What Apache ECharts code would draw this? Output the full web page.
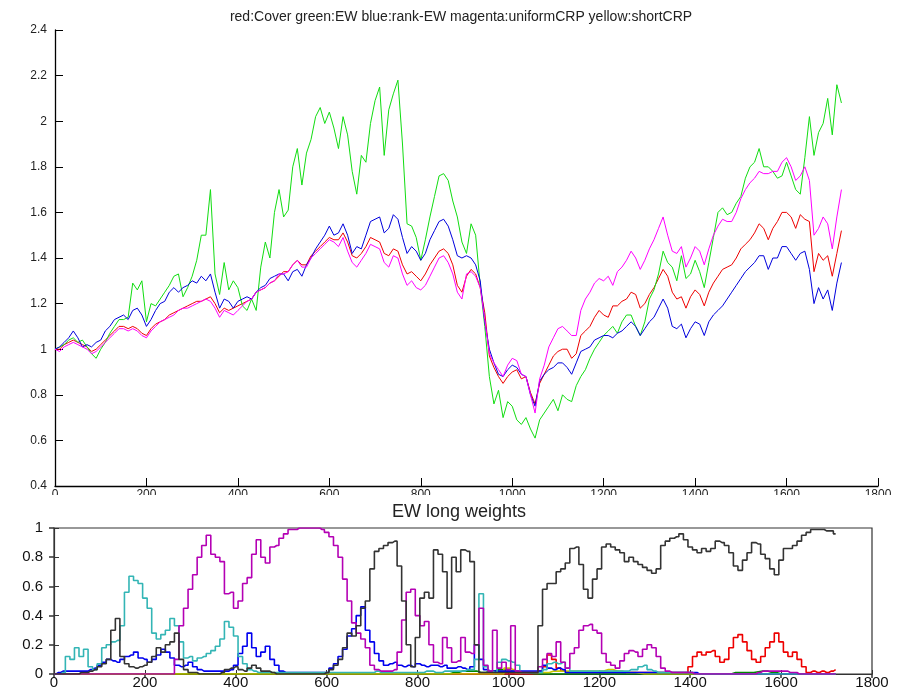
<!DOCTYPE html>
<html>
<head>
<meta charset="utf-8">
<script src="https://cdn.jsdelivr.net/npm/echarts@6/dist/echarts.min.js"></script>
<style>html,body{margin:0;padding:0;background:#fff}#c{width:899px;height:690px}</style>
</head>
<body>
<div id="c"></div>
<script>
// sample index (days), one value every 10 days, 0..1720
const T = [];
for (let i = 0; i <= 172; i++) T.push(i * 10);

// ---------- top panel: cumulative wealth ----------
const cover = [
1.00,1.00,1.02,1.03,1.04,1.03,1.02,1.01,0.99,1.00,
1.02,1.04,1.06,1.08,1.10,1.10,1.09,1.10,1.09,1.07,
1.06,1.09,1.11,1.12,1.13,1.15,1.16,1.17,1.18,1.19,
1.20,1.21,1.21,1.22,1.23,1.20,1.16,1.18,1.17,1.18,
1.19,1.20,1.21,1.22,1.25,1.26,1.27,1.29,1.30,1.32,
1.34,1.34,1.37,1.39,1.37,1.37,1.41,1.43,1.45,1.47,
1.49,1.48,1.48,1.51,1.47,1.41,1.40,1.42,1.45,1.49,
1.48,1.47,1.42,1.41,1.44,1.43,1.37,1.33,1.34,1.32,
1.30,1.33,1.37,1.40,1.43,1.44,1.42,1.37,1.28,1.25,
1.32,1.35,1.33,1.27,1.16,0.97,0.92,0.88,0.85,0.88,
0.90,0.91,0.87,0.88,0.81,0.76,0.85,0.89,0.93,0.97,
0.99,1.00,1.00,0.96,0.98,1.06,1.08,1.10,1.14,1.17,
1.15,1.14,1.19,1.19,1.21,1.22,1.25,1.24,1.18,1.20,
1.24,1.27,1.31,1.35,1.32,1.25,1.22,1.23,1.18,1.23,
1.26,1.24,1.19,1.25,1.29,1.32,1.35,1.36,1.37,1.40,
1.44,1.46,1.48,1.51,1.55,1.53,1.48,1.53,1.56,1.60,
1.60,1.58,1.53,1.59,1.57,1.56,1.34,1.42,1.39,1.41,
1.32,1.42,1.52];

const ew = [
1.00,1.01,1.02,1.04,1.05,1.03,1.04,1.01,0.98,0.96,
1.00,1.03,1.07,1.10,1.13,1.13,1.14,1.29,1.26,1.30,
1.12,1.20,1.19,1.22,1.25,1.28,1.32,1.33,1.23,1.27,
1.32,1.39,1.50,1.50,1.70,1.33,1.24,1.38,1.26,1.30,
1.27,1.19,1.17,1.22,1.17,1.36,1.47,1.40,1.60,1.70,
1.58,1.61,1.80,1.88,1.72,1.86,1.92,2.02,2.06,1.99,
2.04,1.97,1.88,2.02,1.94,1.78,1.68,1.85,1.82,1.99,
2.09,2.15,1.85,2.05,2.12,2.18,1.90,1.55,1.54,1.49,
1.39,1.48,1.58,1.67,1.76,1.77,1.74,1.65,1.58,1.47,
1.42,1.55,1.50,1.28,1.10,0.88,0.76,0.82,0.70,0.77,
0.75,0.69,0.67,0.70,0.65,0.61,0.69,0.72,0.75,0.78,
0.73,0.80,0.78,0.77,0.84,0.88,0.91,0.96,1.00,1.03,
1.06,1.08,1.10,1.07,1.12,1.15,1.15,1.10,1.06,1.12,
1.22,1.26,1.33,1.43,1.38,1.36,1.30,1.41,1.31,1.33,
1.39,1.34,1.27,1.38,1.49,1.60,1.62,1.59,1.60,1.64,
1.67,1.75,1.80,1.82,1.88,1.80,1.80,1.78,1.75,1.76,
1.82,1.76,1.70,1.68,1.84,2.02,1.85,1.95,1.99,2.10,
1.94,2.16,2.08];

const rankEw = [
1.00,1.01,1.03,1.05,1.08,1.05,1.01,1.02,1.01,1.03,
1.04,1.08,1.10,1.13,1.14,1.15,1.13,1.17,1.18,1.15,
1.10,1.13,1.17,1.20,1.21,1.25,1.27,1.25,1.27,1.28,
1.30,1.29,1.32,1.30,1.33,1.25,1.18,1.22,1.21,1.18,
1.21,1.22,1.23,1.22,1.25,1.27,1.28,1.31,1.32,1.33,
1.33,1.30,1.34,1.35,1.32,1.37,1.40,1.44,1.47,1.50,
1.54,1.50,1.51,1.55,1.50,1.42,1.45,1.44,1.50,1.56,
1.57,1.58,1.51,1.53,1.59,1.57,1.49,1.42,1.45,1.43,
1.39,1.42,1.48,1.52,1.56,1.57,1.54,1.48,1.41,1.40,
1.41,1.40,1.37,1.30,1.12,1.00,0.94,0.89,0.88,0.91,
0.93,0.92,0.89,0.88,0.80,0.75,0.86,0.89,0.91,0.92,
0.94,0.94,0.92,0.89,0.94,0.99,1.00,1.01,1.04,1.05,
1.06,1.06,1.05,1.07,1.08,1.10,1.12,1.10,1.06,1.09,
1.12,1.14,1.18,1.22,1.18,1.10,1.09,1.11,1.05,1.09,
1.12,1.11,1.06,1.12,1.15,1.17,1.19,1.22,1.25,1.28,
1.31,1.34,1.36,1.38,1.41,1.41,1.35,1.40,1.40,1.45,
1.45,1.42,1.39,1.42,1.43,1.35,1.20,1.27,1.22,1.26,
1.17,1.29,1.38];

const uniformCrp = [
1.00,0.99,1.01,1.02,1.03,1.02,1.01,1.00,0.98,0.99,
1.01,1.03,1.05,1.07,1.09,1.09,1.08,1.09,1.08,1.06,
1.05,1.08,1.10,1.12,1.13,1.14,1.15,1.17,1.18,1.18,
1.19,1.20,1.21,1.22,1.21,1.18,1.14,1.17,1.16,1.15,
1.17,1.19,1.21,1.22,1.25,1.26,1.27,1.29,1.30,1.33,
1.33,1.34,1.37,1.39,1.36,1.36,1.40,1.42,1.44,1.46,
1.48,1.47,1.45,1.49,1.43,1.38,1.36,1.39,1.42,1.46,
1.45,1.44,1.38,1.36,1.41,1.40,1.33,1.28,1.30,1.27,
1.26,1.28,1.32,1.36,1.40,1.41,1.38,1.33,1.25,1.22,
1.33,1.34,1.32,1.27,1.13,0.98,0.94,0.91,0.88,0.93,
0.96,0.95,0.89,0.88,0.80,0.72,0.87,0.93,1.01,1.05,
1.09,1.10,1.08,1.06,1.06,1.17,1.22,1.25,1.29,1.31,
1.30,1.32,1.28,1.34,1.36,1.39,1.43,1.40,1.35,1.39,
1.44,1.48,1.53,1.58,1.50,1.43,1.42,1.45,1.36,1.40,
1.45,1.43,1.37,1.44,1.50,1.54,1.57,1.56,1.56,1.60,
1.66,1.70,1.73,1.75,1.78,1.77,1.77,1.78,1.78,1.82,
1.84,1.80,1.74,1.76,1.80,1.74,1.50,1.53,1.58,1.55,
1.44,1.58,1.70];

// ---------- bottom panel: EW long weights ----------
const wBlack = [
0,0,0,0,0,0,0.01,0.01,0.02,0.03,
0.05,0.07,0.10,0.30,0.38,0.12,0.07,0.05,0.04,0.05,
0.06,0.08,0.12,0.18,0.15,0.20,0.22,0.28,0.10,0.03,
0.01,0.01,0,0,0,0,0,0.01,0.03,0.04,
0.05,0.03,0.02,0.04,0.06,0.04,0.02,0.02,0.01,0,
0,0,0,0,0,0,0,0,0,0,
0.01,0.03,0.06,0.10,0.18,0.28,0.26,0.33,0.45,0.50,
0.72,0.84,0.86,0.88,0.90,0.91,0.74,0.50,0.20,0.05,
0.25,0.52,0.56,0.52,0.85,0.82,0.70,0.45,0.80,0.70,
0.85,0.84,0.77,0.20,0.01,0.01,0.01,0.01,0.01,0.01,
0.01,0.01,0.01,0.01,0.01,0.01,0.01,0.33,0.58,0.62,
0.62,0.70,0.72,0.76,0.86,0.87,0.75,0.58,0.52,0.65,
0.72,0.87,0.89,0.87,0.85,0.83,0.77,0.80,0.77,0.75,
0.73,0.71,0.69,0.72,0.88,0.91,0.93,0.94,0.96,0.92,
0.87,0.85,0.83,0.86,0.84,0.86,0.91,0.90,0.88,0.83,
0.74,0.71,0.78,0.83,0.90,0.89,0.82,0.79,0.72,0.68,
0.78,0.86,0.86,0.88,0.91,0.95,0.97,0.99,0.99,0.99,
0.98,0.98,0.96];

const wPurple = [
0,0,0,0,0,0,0,0,0,0,
0,0,0,0,0,0,0,0,0,0,
0,0,0,0,0,0,0,0.10,0.33,0.45,
0.58,0.68,0.80,0.88,0.95,0.82,0.80,0.77,0.55,0.56,
0.45,0.50,0.62,0.66,0.82,0.92,0.80,0.76,0.87,0.88,
0.93,0.96,0.99,0.99,1.00,1.00,1.00,1.00,1.00,0.99,
0.97,0.94,0.88,0.80,0.65,0.50,0.35,0.28,0.24,0.18,
0.06,0.03,0.02,0.02,0.02,0.03,0.15,0.37,0.56,0.58,
0.40,0.33,0.36,0.20,0.08,0.07,0.25,0.18,0.08,0.09,
0.25,0.15,0.14,0.20,0.45,0.06,0.02,0.30,0.04,0.08,
0.03,0.33,0.02,0.01,0.01,0.01,0.01,0.05,0.10,0.14,
0.12,0.22,0.08,0.04,0.14,0.18,0.30,0.33,0.34,0.30,
0.28,0.14,0.08,0.06,0.04,0.09,0.14,0.16,0.15,0.12,
0.17,0.20,0.18,0.12,0.04,0.02,0.01,0.01,0.01,0.01,
0.01,0,0,0,0,0,0,0,0,0,
0,0,0,0,0,0.01,0.02,0.02,0.02,0.02,
0.02,0.02,0.01,0.01,0,0,0,0,0,0,
0,0,0];

const wCyan = [
0,0,0.01,0.12,0.10,0.18,0.12,0.17,0.05,0.03,
0.07,0.18,0.20,0.22,0.23,0.33,0.56,0.67,0.64,0.62,
0.52,0.45,0.28,0.24,0.27,0.30,0.38,0.33,0.22,0.11,
0.12,0.09,0.11,0.12,0.14,0.16,0.19,0.24,0.36,0.32,
0.26,0.12,0.07,0.03,0.02,0.01,0.01,0.01,0.01,0.01,
0.01,0.01,0.01,0.01,0.01,0.01,0.01,0.01,0.01,0.01,
0.01,0.01,0.01,0.01,0.01,0.01,0.01,0.01,0.01,0.01,
0.01,0.02,0.01,0.01,0.01,0.01,0.01,0.01,0.01,0.01,
0.01,0.01,0.02,0.02,0.01,0.01,0.02,0.02,0.02,0.02,
0.02,0.03,0.03,0.10,0.55,0.05,0.02,0.01,0.08,0.10,
0.09,0.08,0.06,0.01,0.01,0.01,0.01,0.01,0.03,0.07,
0.08,0.07,0.08,0.04,0.02,0.02,0.02,0.02,0.02,0.02,
0.02,0.02,0.02,0.02,0.02,0.02,0.02,0.03,0.03,0.05,
0.06,0.03,0.02,0.01,0.01,0.01,0.01,0.01,0.01,0.01,
0.01,0,0,0,0,0,0,0,0,0,
0,0,0,0,0,0,0,0,0,0,
0,0,0,0,0,0,0,0,0,0,
0,0,0];

const wBlue = [
0,0.01,0.02,0.02,0.02,0.02,0.02,0.02,0.03,0.04,
0.06,0.08,0.10,0.09,0.08,0.10,0.12,0.13,0.15,0.11,
0.10,0.08,0.10,0.13,0.17,0.15,0.11,0.06,0.05,0.06,
0.08,0.05,0.03,0.02,0.02,0.02,0.02,0.02,0.02,0.03,
0.06,0.14,0.19,0.28,0.18,0.12,0.15,0.19,0.10,0.06,
0.02,0.01,0.01,0.01,0.01,0.01,0.01,0.01,0.01,0.01,
0.01,0.04,0.07,0.12,0.17,0.26,0.31,0.40,0.46,0.30,
0.22,0.14,0.09,0.06,0.07,0.08,0.06,0.05,0.06,0.05,
0.07,0.06,0.05,0.06,0.06,0.05,0.06,0.04,0.04,0.05,
0.04,0.03,0.05,0.20,0.10,0.03,0.02,0.02,0.02,0.02,
0.02,0.02,0.02,0.02,0.02,0.02,0.02,0.02,0.06,0.04,
0.03,0.04,0.03,0.01,0.01,0.01,0.01,0.01,0.01,0.01,
0.01,0.01,0.01,0.01,0.01,0.01,0.01,0.01,0.01,0.01,
0.01,0.01,0.01,0.01,0.01,0.01,0.01,0.01,0.01,0.01,
0.01,0.01,0,0,0,0,0,0,0,0,
0,0,0,0,0,0,0,0,0,0,
0,0,0,0,0,0,0,0,0,0,
0,0,0];

const wRed = [
0,0,0,0,0,0,0,0,0,0,
0,0,0,0,0,0,0,0,0,0,
0,0,0,0,0,0,0,0,0,0,
0,0,0,0,0,0,0,0,0,0,
0,0,0,0,0,0,0,0,0,0,
0,0,0,0,0,0,0,0,0,0,
0,0,0,0,0,0,0,0,0,0,
0,0,0,0,0,0,0,0,0,0,
0,0,0,0,0,0,0,0,0,0,
0,0,0,0,0,0,0,0,0,0,
0,0,0,0,0,0,0,0.02,0.05,0.13,
0.10,0.04,0.02,0.01,0.01,0.01,0.01,0.01,0.01,0.01,
0.01,0.01,0.01,0.01,0.01,0.01,0.01,0.01,0.01,0.01,
0.01,0.01,0.01,0.01,0.01,0.01,0.01,0.01,0.01,0.01,
0.05,0.12,0.15,0.13,0.15,0.16,0.12,0.08,0.10,0.18,
0.25,0.27,0.22,0.16,0.10,0.08,0.12,0.18,0.22,0.28,
0.22,0.15,0.12,0.15,0.10,0.05,0.01,0.02,0.01,0.02,
0.01,0.02,0.03];

// small near-zero weights, read as [day, weight]
const wGreen = [[0,0],[860,0],[880,0.01],[900,0.02],[920,0.02],[940,0.01],[960,0.02],[980,0.03],[1000,0.02],[1020,0.01],[1060,0],[1480,0],[1500,0.01],[1520,0.01],[1560,0.02],[1580,0.01],[1600,0],[1720,0]];
const wYellow = [[0,0],[980,0],[1000,0.04],[1010,0.03],[1020,0.01],[1080,0.01],[1100,0.02],[1200,0.02],[1220,0.03],[1240,0.02],[1260,0.01],[1300,0],[1720,0]];

const pairs = vals => vals.map((v, i) => [T[i], v]);
const plain = v => String(v);

const FONT = '"Liberation Sans", Arial, Helvetica, sans-serif';

const chart = echarts.init(document.getElementById('c'), null, {renderer: 'canvas'});

function topLine(name, data, color) {
  return {name, type: 'line', xAxisIndex: 0, yAxisIndex: 0, data: pairs(data),
    showSymbol: false, symbol: 'none', clip: true,
    lineStyle: {color, width: 1}, itemStyle: {color}, animation: false};
}
function botLine(name, data, color, isPairs) {
  return {name, type: 'line', xAxisIndex: 1, yAxisIndex: 1, data: isPairs ? data : pairs(data),
    showSymbol: false, symbol: 'none', clip: true, step: 'middle',
    lineStyle: {color, width: 1.6}, itemStyle: {color}, animation: false};
}

const option = {
  backgroundColor: '#fff',
  animation: false,
  title: [
    {text: 'red:Cover green:EW blue:rank-EW magenta:uniformCRP yellow:shortCRP',
     left: 461, top: 10, textAlign: 'center', padding: 0, z: 10,
     textStyle: {fontFamily: FONT, fontSize: 14, fontWeight: 'normal', color: '#222'}},
    {text: 'EW long weights', left: 459, top: 503, textAlign: 'center', padding: 0, z: 10,
     textStyle: {fontFamily: FONT, fontSize: 18, fontWeight: 'normal', color: '#222'}}
  ],
  graphic: [
    {type: 'rect', z: 5, shape: {x: 0, y: 495, width: 899, height: 23}, style: {fill: '#fff'}}
  ],
  grid: [
    {left: 55, right: 21, top: 30, height: 456, show: false},
    {left: 54, right: 27, top: 528, height: 147, show: true, borderColor: '#333', borderWidth: 1.2, backgroundColor: 'transparent'}
  ],
  xAxis: [
    {gridIndex: 0, type: 'value', min: 0, max: 1800, interval: 200,
     axisLine: {show: true, onZero: false, lineStyle: {color: '#000', width: 1.3}},
     axisTick: {show: true, inside: true, length: 8, lineStyle: {color: '#000'}},
     axisLabel: {fontFamily: FONT, fontSize: 12, color: '#222', margin: 3, formatter: plain},
     splitLine: {show: false}},
    {gridIndex: 1, type: 'value', min: 0, max: 1800, interval: 200,
     axisLine: {show: true, onZero: false, lineStyle: {color: '#333', width: 1.2}},
     axisTick: {show: true, inside: true, length: 4, lineStyle: {color: '#333'}},
     axisLabel: {fontFamily: FONT, fontSize: 15, color: '#111', margin: 1, formatter: plain},
     splitLine: {show: false}},
    {gridIndex: 1, type: 'value', position: 'top', min: 0, max: 1800, interval: 200,
     axisLine: {show: false},
     axisTick: {show: true, inside: true, length: 4, lineStyle: {color: '#333', width: 1.5}},
     axisLabel: {show: false}, splitLine: {show: false}}
  ],
  yAxis: [
    {gridIndex: 0, type: 'value', min: 0.4, max: 2.4, interval: 0.2,
     axisLine: {show: true, onZero: false, lineStyle: {color: '#000', width: 1.3}},
     axisTick: {show: true, inside: true, length: 8, lineStyle: {color: '#000'}},
     axisLabel: {fontFamily: FONT, fontSize: 12, color: '#222', margin: 8},
     splitLine: {show: false}},
    {gridIndex: 1, type: 'value', min: 0, max: 1, interval: 0.2,
     axisLine: {show: true, onZero: false, lineStyle: {color: '#333', width: 1.2}},
     axisTick: {show: true, inside: true, length: 5, lineStyle: {color: '#333'}},
     axisLabel: {fontFamily: FONT, fontSize: 15, color: '#111', margin: 11},
     splitLine: {show: false}},
    {gridIndex: 1, type: 'value', position: 'right', min: 0, max: 1, interval: 0.2,
     axisLine: {show: false},
     axisTick: {show: true, inside: true, length: 5, lineStyle: {color: '#333', width: 1.5}},
     axisLabel: {show: false}, splitLine: {show: false}}
  ],
  series: [
    topLine('Cover', cover, '#ee0000'),
    topLine('EW', ew, '#11dd11'),
    topLine('rank-EW', rankEw, '#0000dd'),
    topLine('uniformCRP', uniformCrp, '#ff00ff'),
    botLine('w red', wRed, '#ee0000'),
    botLine('w green', wGreen, '#008800', true),
    botLine('w yellow', wYellow, '#c8c800', true),
    botLine('w blue', wBlue, '#0000ee'),
    botLine('w cyan', wCyan, '#33b5b5'),
    botLine('w purple', wPurple, '#b400b4'),
    botLine('w black', wBlack, '#333333')
  ]
};
chart.setOption(option);
</script>
</body>
</html>
